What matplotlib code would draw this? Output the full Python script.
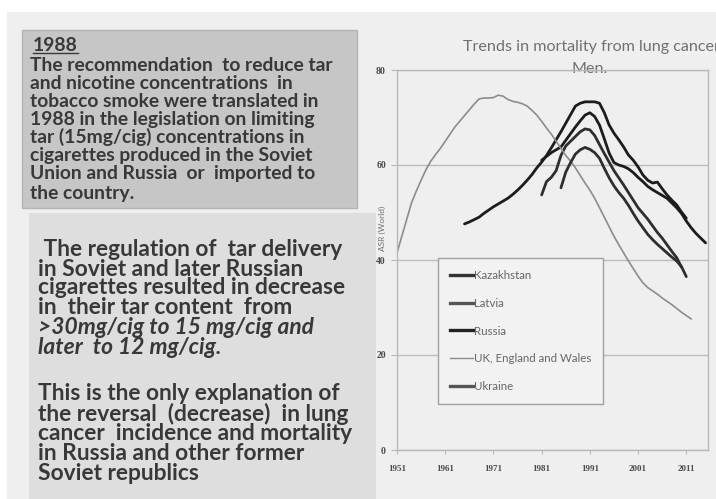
import matplotlib
matplotlib.use("Agg")
import matplotlib.pyplot as plt
from matplotlib.patches import Rectangle
from matplotlib.lines import Line2D

# ---------------- data ----------------
series_names = ["Kazakhstan", "Latvia", "Russia", "UK, England and Wales", "Ukraine"]

kaz_years = list(range(1981, 2016))
kaz_vals = [61.0, 61.8, 62.6, 63.2, 63.8, 65.2, 66.6, 68.0, 69.3, 70.5,
            71.0, 70.2, 68.4, 65.5, 62.5, 60.5, 60.0, 59.7, 59.2, 58.4,
            57.4, 56.5, 55.5, 54.8, 54.2, 53.6, 53.0, 52.0, 51.0, 49.8,
            48.2, 46.8, 45.6, 44.6, 43.6]

lat_years = list(range(1981, 2011))
lat_vals = [53.7, 56.5, 57.4, 58.8, 62.0, 64.0, 65.0, 66.0, 67.0, 67.6,
            67.4, 66.2, 64.3, 62.4, 60.6, 58.8, 57.3, 55.8, 54.2, 52.6,
            51.0, 49.8, 48.6, 47.2, 45.8, 44.6, 43.2, 41.8, 40.5, 38.5]

rus_years = list(range(1965, 2012))
rus_vals = [47.6, 48.0, 48.5, 49.0, 49.8, 50.5, 51.2, 51.8, 52.4, 53.0,
            53.8, 54.7, 55.7, 56.8, 58.0, 59.4, 60.6, 62.0, 63.6, 65.3,
            67.0, 68.8, 70.6, 72.4, 73.0, 73.3, 73.3, 73.3, 73.0, 71.0,
            68.4, 66.7, 65.3, 63.8, 62.1, 61.0, 59.6, 57.9, 56.8, 56.2,
            56.4, 55.0, 53.7, 52.6, 51.6, 50.1, 48.8]

uk_years = list(range(1951, 2013))
uk_vals = [41.5, 45.0, 48.5, 52.0, 54.5, 56.8, 59.0, 60.8, 62.2, 63.5,
           65.0, 66.5, 68.0, 69.2, 70.4, 71.6, 72.8, 73.9, 74.1, 74.1,
           74.2, 74.7, 74.5, 73.8, 73.4, 73.2, 72.9, 72.4, 71.5, 70.5,
           69.2, 67.8, 66.5, 65.0, 63.5, 62.0, 60.8, 59.4, 57.8, 56.2,
           54.7, 53.0, 51.0, 49.0, 47.0, 45.0, 43.2, 41.5, 39.8, 38.2,
           36.6, 35.2, 34.2, 33.5, 32.8, 32.0, 31.3, 30.6, 29.8, 29.0,
           28.3, 27.6]

ukr_years = list(range(1985, 2012))
ukr_vals = [55.2, 58.5, 60.5, 62.3, 63.2, 63.7, 63.3, 62.6, 61.4, 59.3,
            57.3, 55.6, 54.2, 53.0, 51.5, 49.8, 48.2, 46.8, 45.4, 44.3,
            43.3, 42.4, 41.5, 40.6, 39.8, 38.6, 36.5]

x_ticks = [1951, 1961, 1971, 1981, 1991, 2001, 2011]
y_ticks = [0, 20, 40, 60, 80]

chart_title = "Trends in mortality from lung cancer"
chart_subtitle = "Men."
y_label = "ASR (World)"

box1_head = "1988"
box1_lines = [
    "The recommendation  to reduce tar",
    "and nicotine concentrations  in",
    "tobacco smoke were translated in",
    "1988 in the legislation on limiting",
    "tar (15mg/cig) concentrations in",
    "cigarettes produced in the Soviet",
    "Union and Russia  or  imported to",
    "the country.",
]
box2_lines = [
    (" The regulation of  tar delivery", False),
    ("in Soviet and later Russian", False),
    ("cigarettes resulted in decrease", False),
    ("in  their tar content  from", False),
    (">30mg/cig to 15 mg/cig and", True),
    ("later  to 12 mg/cig.", True),
    ("This is the only explanation of", False),
    ("the reversal  (decrease)  in lung", False),
    ("cancer  incidence and mortality", False),
    ("in Russia and other former", False),
    ("Soviet republics", False),
]

# ---------------- figure ----------------
W, H = 716, 499
fig = plt.figure(figsize=(W / 100, H / 100), dpi=100, facecolor="white")
renderer = fig.canvas.get_renderer()

bg = fig.add_axes([0, 0, 1, 1], zorder=-5)
bg.set_xlim(0, W)
bg.set_ylim(H, 0)
bg.axis("off")
bg.add_patch(Rectangle((7, 12), W - 7, H - 12, facecolor="#efefef", edgecolor="none"))
bg.add_patch(Rectangle((22, 30), 335, 178, facecolor="#c6c6c6", edgecolor="#b4b4b4", lw=1))
bg.add_patch(Rectangle((29, 213), 347, 290, facecolor="#dedede", edgecolor="none"))

FAM = ["Lato", "DejaVu Sans"]


def fit(t, target):
    w = t.get_window_extent(renderer).width
    t.set_fontsize(t.get_fontsize() * target / w)


# box 1 text
txt_color = "#383838"
ref = bg.text(30, 65, box1_lines[0], family=FAM, weight="bold", fontsize=10,
              color=txt_color, va="center", ha="left")
fit(ref, 304)
fs1 = ref.get_fontsize()
ys1 = [65, 83, 101, 119, 137, 156, 174, 193]
for s, y in zip(box1_lines[1:], ys1[1:]):
    bg.text(30, y, s, family=FAM, weight="bold", fontsize=fs1, color=txt_color,
            va="center", ha="left")
h = bg.text(33, 45, box1_head, family=FAM, weight="bold", fontsize=fs1,
            color=txt_color, va="center", ha="left")
hw = h.get_window_extent(renderer).width
bg.plot([33, 33 + hw], [52.5, 52.5], color=txt_color, lw=1)

# box 2 text
ref2 = bg.text(38, 288, box2_lines[2][0], family=FAM, weight="bold", fontsize=12,
               color=txt_color, va="center", ha="left")
fit(ref2, 306)
fs2 = ref2.get_fontsize()
ys2 = [250, 269, 288, 307, 327, 347, 394, 414, 433, 453, 473]
for i, ((s, it), y) in enumerate(zip(box2_lines, ys2)):
    if i == 2:
        continue
    bg.text(38, y, s, family=FAM, weight="bold", fontsize=fs2, color=txt_color,
            style="italic" if it else "normal", va="center", ha="left")

# chart title (cut by the slide edge, as in the original)
tt = bg.text(463, 47, "Trends in mortality from lung", family=FAM, fontsize=8,
             color="#707070", va="center", ha="left")
fit(tt, 208)
fst = tt.get_fontsize()
tt.set_text(chart_title)
bg.text(590, 69, chart_subtitle, family=FAM, fontsize=fst, color="#707070",
        va="center", ha="center")

# ---------------- chart ----------------
ax = fig.add_axes([397 / W, 1 - 450 / H, (708 - 397) / W, (450 - 70) / H])
ax.set_facecolor("none")
ax.set_xlim(1951, 2015.5)
ax.set_ylim(0, 80)

for sp in ax.spines.values():
    sp.set_color("#b8b8b8")
    sp.set_linewidth(1)
ax.set_yticks(y_ticks)
ax.yaxis.grid(True, color="#bcbcbc", lw=1)
ax.set_axisbelow(True)
ax.set_xticks(x_ticks)
ax.tick_params(axis="y", length=4, color="#b8b8b8", pad=4, labelsize=7,
               labelcolor="#4a4a4a")
ax.tick_params(axis="x", length=3, color="#b8b8b8", pad=8, labelsize=6.5,
               labelcolor="#4a4a4a")
for lab in ax.get_xticklabels() + ax.get_yticklabels():
    lab.set_family(["Liberation Serif", "DejaVu Serif"])
    lab.set_weight("bold")

dark = "#1c1c1c"
dark2 = "#2e2e2e"
ax.plot(kaz_years, kaz_vals, color=dark, lw=2.0, label=series_names[0], solid_capstyle="round")
ax.plot(lat_years, lat_vals, color=dark2, lw=2.0, label=series_names[1], solid_capstyle="round")
ax.plot(rus_years, rus_vals, color=dark, lw=2.0, label=series_names[2], solid_capstyle="round")
ax.plot(uk_years, uk_vals, color="#8c8c8c", lw=1.2, label=series_names[3])
ax.plot(ukr_years, ukr_vals, color=dark2, lw=2.0, label=series_names[4], solid_capstyle="round")

fig.text(382 / W, 1 - 228 / H, y_label, rotation=90, family=FAM, fontsize=6,
         color="#707070", ha="center", va="center")

hs = [Line2D([], [], color="#333333", lw=2.4),
      Line2D([], [], color="#555555", lw=2.4),
      Line2D([], [], color="#222222", lw=2.4),
      Line2D([], [], color="#8c8c8c", lw=1.0),
      Line2D([], [], color="#555555", lw=2.4)]
leg = ax.legend(hs, series_names, loc="upper left",
                bbox_to_anchor=(438 / W, 1 - 258 / H), bbox_transform=fig.transFigure,
                borderaxespad=0, frameon=True, fancybox=False, framealpha=1,
                facecolor="#f2f2f2", edgecolor="#a0a0a0",
                prop={"family": FAM, "size": 8.3}, labelcolor="#666666",
                handlelength=1.95, handletextpad=0.1, labelspacing=1.45,
                borderpad=1.05)
leg.get_frame().set_linewidth(1)

fig.savefig("out.png", dpi=100, facecolor=fig.get_facecolor())
